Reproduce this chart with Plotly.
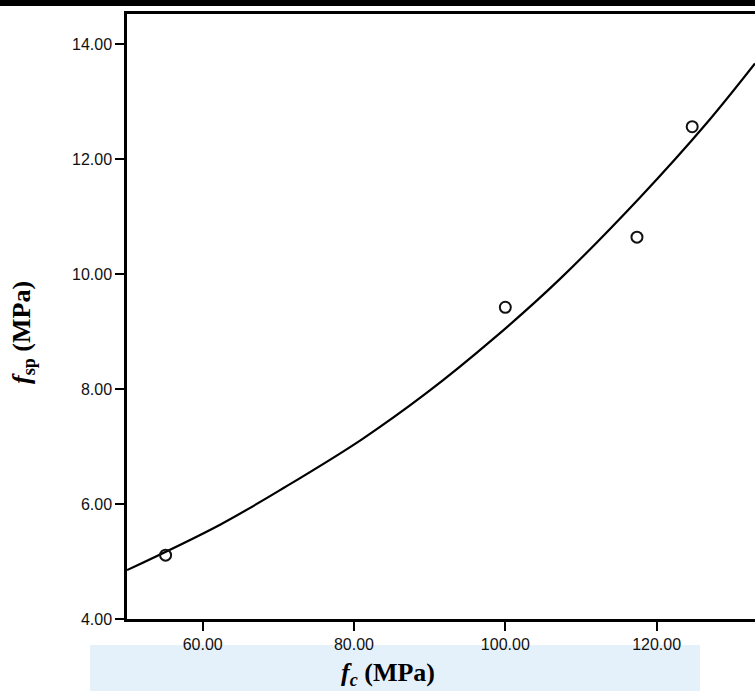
import plotly.graph_objects as go

# Observed data points (f_c, f_sp)
fc_points = [55.1, 100.0, 117.4, 124.7]
fsp_points = [5.11, 9.42, 10.64, 12.56]

# Fitted curve
fc_curve = [50.0, 62.3, 71.1, 81.0, 89.6, 98.4, 107.2, 117.8, 126.6, 133.0]
fsp_curve = [4.85, 5.64, 6.31, 7.12, 7.93, 8.87, 9.91, 11.33, 12.62, 13.66]

x_ticks = [60, 80, 100, 120]
x_ticklabels = ["60.00", "80.00", "100.00", "120.00"]
y_ticks = [4, 6, 8, 10, 12, 14]
y_ticklabels = ["4.00", "6.00", "8.00", "10.00", "12.00", "14.00"]

W, H = 755, 691
L, R, T, B = 127, 0, 14, 72
pw, ph = W - L - R, H - T - B

def px_to_paper_x(px):
    return (px - L) / pw

def px_to_paper_y(py):
    return (H - B - py) / ph

fig = go.Figure()
fig.add_trace(go.Scatter(
    x=fc_curve, y=fsp_curve, mode="lines",
    line=dict(color="black", width=2.2, shape="spline", smoothing=1.0),
    showlegend=False, hoverinfo="skip"))
fig.add_trace(go.Scatter(
    x=fc_points, y=fsp_points, mode="markers",
    marker=dict(symbol="circle-open", size=11, color="#111111",
                line=dict(width=2, color="#111111")),
    showlegend=False))

tickfont = dict(family="Liberation Sans, Arial, sans-serif", size=16, color="#111111")

fig.update_xaxes(range=[50, 133], tickvals=x_ticks, ticktext=x_ticklabels,
                 showgrid=False, zeroline=False, showline=True, linecolor="black",
                 linewidth=2.5, mirror=True, ticks="outside", ticklen=9, tickwidth=2,
                 tickcolor="black", tickfont=tickfont)
fig.update_yaxes(range=[4, 14.52], tickvals=y_ticks, ticktext=y_ticklabels,
                 showgrid=False, zeroline=False, showline=True, linecolor="black",
                 linewidth=2.5, mirror=False, ticks="outside", ticklen=9, tickwidth=2,
                 tickcolor="black", tickfont=tickfont)

titlefont = dict(family="Liberation Serif, Times New Roman, serif", size=26, color="black")

shapes = [
    # faint watermark band at bottom
    dict(type="rect", xref="paper", yref="paper",
         x0=px_to_paper_x(90), x1=px_to_paper_x(700),
         y0=px_to_paper_y(691), y1=px_to_paper_y(645),
         fillcolor="rgba(190,220,242,0.40)", line=dict(width=0), layer="below"),
    # black bar at top of image
    dict(type="rect", xref="paper", yref="paper",
         x0=px_to_paper_x(0), x1=px_to_paper_x(755),
         y0=px_to_paper_y(6), y1=px_to_paper_y(0),
         fillcolor="black", line=dict(width=0)),
]

annotations = [
    dict(text="<b><i>f</i><sub><i>c</i></sub> (MPa)</b>", xref="paper", yref="paper",
         x=px_to_paper_x(388), y=px_to_paper_y(674), showarrow=False,
         xanchor="center", yanchor="middle", font=titlefont),
    dict(text="<b><i>f</i><sub>sp</sub> (MPa)</b>", xref="paper", yref="paper",
         x=px_to_paper_x(23), y=px_to_paper_y(333), showarrow=False, textangle=-90,
         xanchor="center", yanchor="middle", font=titlefont),
]

fig.update_layout(width=W, height=H, margin=dict(l=L, r=R, t=T, b=B),
                  plot_bgcolor="white", paper_bgcolor="white",
                  shapes=shapes, annotations=annotations, showlegend=False)

fig.write_html("out.html", config={"displayModeBar": False},
               post_script="document.body.style.margin='0px';document.body.style.overflow='hidden';")
